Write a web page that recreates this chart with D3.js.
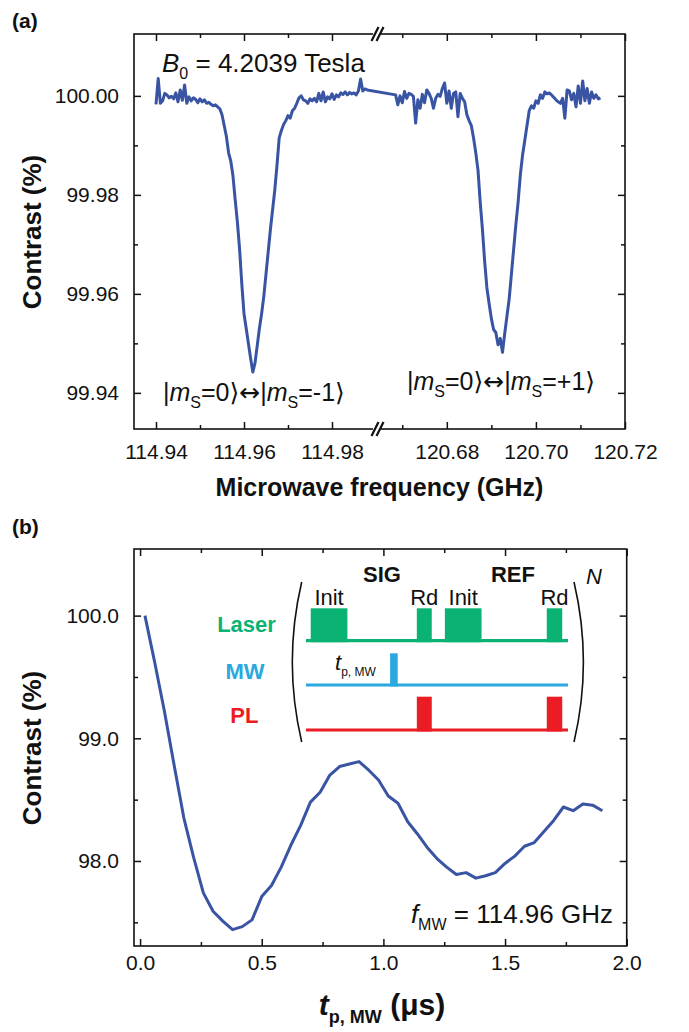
<!DOCTYPE html>
<html>
<head>
<meta charset="utf-8">
<script src="https://cdn.jsdelivr.net/npm/d3@7"></script>
<style>
  body { margin: 0; background: #fff; }
</style>
</head>
<body>
<svg id="chart" width="689" height="1032"></svg>
<script>
// ---- panel (a): ODMR spectrum, two windows with an axis break ----
var specLo = [
  [114.9400, 99.9983], [114.9405, 100.0035], [114.9410, 99.9985], [114.9415, 99.9990],
  [114.9420, 100.0005], [114.9425, 100.0002], [114.9430, 99.9996], [114.9435, 99.9999],
  [114.9440, 99.9994], [114.9445, 100.0006], [114.9450, 99.9988], [114.9455, 100.0012],
  [114.9460, 99.9991], [114.9465, 100.0022], [114.9470, 99.9985], [114.9475, 99.9998],
  [114.9480, 99.9990], [114.9485, 99.9996], [114.9490, 99.9993], [114.9495, 99.9986],
  [114.9500, 99.9994], [114.9505, 99.9988], [114.9510, 99.9992], [114.9515, 99.9985],
  [114.9520, 99.9987], [114.9525, 99.9983], [114.9530, 99.9980], [114.9535, 99.9982],
  [114.9540, 99.9978], [114.9545, 99.9974], [114.9550, 99.9962], [114.9555, 99.9940],
  [114.9560, 99.9918], [114.9565, 99.9885], [114.9570, 99.9868], [114.9575, 99.9838],
  [114.9580, 99.9790], [114.9585, 99.9745], [114.9590, 99.9690], [114.9595, 99.9620],
  [114.9600, 99.9560], [114.9605, 99.9530], [114.9610, 99.9500], [114.9615, 99.9470],
  [114.9620, 99.9442], [114.9625, 99.9460], [114.9630, 99.9495], [114.9635, 99.9530],
  [114.9640, 99.9560], [114.9645, 99.9595], [114.9650, 99.9640], [114.9655, 99.9685],
  [114.9660, 99.9730], [114.9665, 99.9770], [114.9670, 99.9810], [114.9675, 99.9860],
  [114.9680, 99.9915], [114.9685, 99.9930], [114.9690, 99.9942], [114.9695, 99.9950],
  [114.9700, 99.9960], [114.9705, 99.9955], [114.9710, 99.9970], [114.9715, 99.9975],
  [114.9720, 99.9985], [114.9725, 99.9996], [114.9730, 100.0000], [114.9735, 99.9992],
  [114.9740, 99.9990], [114.9745, 99.9985], [114.9750, 99.9994], [114.9755, 99.9990],
  [114.9760, 99.9995], [114.9765, 99.9988], [114.9770, 100.0005], [114.9775, 99.9990],
  [114.9780, 100.0008], [114.9785, 99.9988], [114.9790, 99.9998], [114.9795, 99.9994],
  [114.9800, 100.0004], [114.9805, 99.9993], [114.9810, 100.0002], [114.9815, 99.9998],
  [114.9820, 100.0006], [114.9825, 100.0003], [114.9830, 100.0008], [114.9835, 100.0002],
  [114.9840, 100.0007], [114.9845, 100.0004], [114.9850, 100.0006], [114.9855, 100.0002],
  [114.9860, 100.0010], [114.9865, 100.0034], [114.9870, 100.0010], [114.9875, 100.0014],
  [114.9880, 100.0012]
];
var specHi = [
  [120.6685, 100.0002], [120.6690, 99.9982], [120.6695, 100.0000], [120.6700, 99.9986],
  [120.6705, 100.0009], [120.6710, 99.9995], [120.6715, 100.0005], [120.6720, 100.0003],
  [120.6725, 99.9999], [120.6730, 99.9945], [120.6735, 99.9992], [120.6740, 99.9975],
  [120.6745, 100.0003], [120.6750, 99.9986], [120.6755, 100.0012], [120.6760, 100.0005],
  [120.6765, 99.9995], [120.6770, 99.9975], [120.6775, 99.9995], [120.6780, 100.0003],
  [120.6785, 99.9999], [120.6790, 100.0015], [120.6795, 100.0026], [120.6800, 99.9985],
  [120.6805, 100.0010], [120.6810, 99.9975], [120.6815, 100.0005], [120.6820, 100.0008],
  [120.6825, 99.9958], [120.6830, 100.0005], [120.6835, 99.9995], [120.6840, 99.9988],
  [120.6845, 99.9962], [120.6850, 99.9950], [120.6855, 99.9940], [120.6860, 99.9915],
  [120.6865, 99.9885], [120.6870, 99.9850], [120.6875, 99.9785], [120.6880, 99.9730],
  [120.6885, 99.9665], [120.6890, 99.9612], [120.6895, 99.9580], [120.6900, 99.9550],
  [120.6905, 99.9528], [120.6910, 99.9522], [120.6915, 99.9497], [120.6920, 99.9510],
  [120.6925, 99.9482], [120.6930, 99.9520], [120.6935, 99.9555], [120.6940, 99.9590],
  [120.6945, 99.9640], [120.6950, 99.9690], [120.6955, 99.9740], [120.6960, 99.9785],
  [120.6965, 99.9840], [120.6970, 99.9880], [120.6975, 99.9910], [120.6980, 99.9940],
  [120.6985, 99.9970], [120.6990, 99.9980], [120.6995, 99.9975], [120.7000, 99.9990],
  [120.7005, 99.9985], [120.7010, 100.0002], [120.7015, 99.9995], [120.7020, 100.0008],
  [120.7025, 100.0004], [120.7030, 100.0006], [120.7035, 100.0002], [120.7040, 99.9997],
  [120.7045, 99.9992], [120.7050, 99.9988], [120.7055, 99.9985], [120.7060, 99.9995],
  [120.7065, 99.9955], [120.7070, 100.0012], [120.7075, 100.0010], [120.7080, 99.9992],
  [120.7085, 100.0005], [120.7090, 99.9978], [120.7095, 100.0020], [120.7100, 99.9985],
  [120.7105, 100.0030], [120.7110, 99.9990], [120.7115, 100.0015], [120.7120, 99.9985],
  [120.7125, 100.0008], [120.7130, 99.9995], [120.7135, 100.0002], [120.7140, 99.9994],
  [120.7145, 99.9996]
];
var xTicksLo = [114.94, 114.96, 114.98];
var xMinorLo = [114.95, 114.97];
var xTicksHi = [120.68, 120.70, 120.72];
var xMinorHi = [120.67, 120.69, 120.71];
var yTicksA = [99.94, 99.96, 99.98, 100.00];
var yMinorA = [99.95, 99.97, 99.99];

// ---- panel (b): Rabi oscillation ----
var rabi = [
  [0.02, 100.00], [0.06, 99.62], [0.10, 99.22], [0.14, 98.78], [0.18, 98.35],
  [0.22, 98.03], [0.26, 97.74], [0.30, 97.59], [0.34, 97.51], [0.38, 97.44],
  [0.42, 97.465], [0.46, 97.52], [0.50, 97.71], [0.54, 97.80], [0.58, 97.95],
  [0.62, 98.13], [0.66, 98.29], [0.70, 98.48], [0.74, 98.56], [0.78, 98.70],
  [0.82, 98.77], [0.86, 98.79], [0.90, 98.81], [0.94, 98.74], [0.98, 98.66],
  [1.02, 98.53], [1.06, 98.47], [1.10, 98.32], [1.14, 98.22], [1.18, 98.11],
  [1.22, 98.02], [1.26, 97.95], [1.30, 97.89], [1.34, 97.905], [1.38, 97.86],
  [1.42, 97.88], [1.46, 97.905], [1.50, 97.98], [1.54, 98.04], [1.58, 98.12],
  [1.62, 98.15], [1.66, 98.24], [1.70, 98.33], [1.74, 98.44], [1.78, 98.41],
  [1.82, 98.465], [1.86, 98.455], [1.90, 98.41]
];
var xTicksB = [0, 0.5, 1.0, 1.5, 2.0];
var xMinorB = [0.25, 0.75, 1.25, 1.75];
var yTicksB = [98.0, 99.0, 100.0];
var yMinorB = [97.5, 98.5, 99.5];

// pulse sequence inset, in sequence units (0..100)
var laserPulses = [[1.8, 15.8], [42.3, 48], [53, 67], [91.9, 97.8]];
var laserNames = ["Init", "Rd", "Init", "Rd"];
var mwPulses = [[32.1, 35]];
var plPulses = [[42.3, 48], [91.9, 97.8]];
var blockNames = [["SIG", 29], ["REF", 79]];

var FONT = '"Liberation Sans", Arial, Helvetica, sans-serif';
var SYM = '"DejaVu Sans", sans-serif';
var INK = "#111";
var LINE = "#3a54a4";
var GREEN = "#0ab373", BLUE = "#2aa9e0", RED = "#ec1c24";

var svg = d3.select("#chart");

function styleAxis(g, size) {
  g.select(".domain").remove();
  g.selectAll(".tick line").attr("stroke", INK).attr("stroke-width", 1.5);
  g.selectAll(".tick text").attr("font-family", FONT).attr("font-size", size).attr("fill", INK);
}

// text made of pieces; {t, italic, bold, sub, font}
function rich(parent, x, y, parts, size, anchor) {
  var txt = parent.append("text")
    .attr("x", x).attr("y", y)
    .attr("font-family", FONT)
    .attr("font-size", size)
    .attr("fill", INK)
    .attr("text-anchor", anchor || "start");
  var shift = 0;
  parts.forEach(function(p) {
    var want = p.sub ? Math.round(size * 0.28) : 0;
    var ts = txt.append("tspan").text(p.t).attr("dy", want - shift);
    shift = want;
    if (p.sub) ts.attr("font-size", p.subSize || Math.round(size * 0.62));
    if (p.italic) ts.attr("font-style", "italic");
    if (p.bold) ts.attr("font-weight", "bold");
    if (p.font) ts.attr("font-family", p.font);
  });
  return txt;
}

function drawAxes(g, xs, ys, frame, o) {
  // bottom + top
  xs.forEach(function(s) {
    g.append("g").attr("transform", "translate(0," + frame.bottom + ")")
      .call(d3.axisBottom(s.scale).tickValues(s.major).tickSizeInner(-7).tickSizeOuter(0)
        .tickPadding(o.xPad).tickFormat(d3.format(o.fmt)))
      .call(styleAxis, 21);
    g.append("g").attr("transform", "translate(0," + frame.bottom + ")")
      .call(d3.axisBottom(s.scale).tickValues(s.minor).tickSizeInner(-4).tickSizeOuter(0).tickFormat(""))
      .call(styleAxis, 21);
    g.append("g").attr("transform", "translate(0," + frame.top + ")")
      .call(d3.axisTop(s.scale).tickValues(s.major).tickSizeInner(-7).tickSizeOuter(0).tickFormat(""))
      .call(styleAxis, 21);
    g.append("g").attr("transform", "translate(0," + frame.top + ")")
      .call(d3.axisTop(s.scale).tickValues(s.minor).tickSizeInner(-4).tickSizeOuter(0).tickFormat(""))
      .call(styleAxis, 21);
  });
  // left + right
  g.append("g").attr("transform", "translate(" + frame.left + ",0)")
    .call(d3.axisLeft(ys.scale).tickValues(ys.major).tickSizeInner(-7).tickSizeOuter(0)
      .tickPadding(15).tickFormat(d3.format(o.yfmt)))
    .call(styleAxis, 21);
  g.append("g").attr("transform", "translate(" + frame.left + ",0)")
    .call(d3.axisLeft(ys.scale).tickValues(ys.minor).tickSizeInner(-4).tickSizeOuter(0).tickFormat(""))
    .call(styleAxis, 21);
  g.append("g").attr("transform", "translate(" + frame.right + ",0)")
    .call(d3.axisRight(ys.scale).tickValues(ys.major).tickSizeInner(-7).tickSizeOuter(0).tickFormat(""))
    .call(styleAxis, 21);
  g.append("g").attr("transform", "translate(" + frame.right + ",0)")
    .call(d3.axisRight(ys.scale).tickValues(ys.minor).tickSizeInner(-4).tickSizeOuter(0).tickFormat(""))
    .call(styleAxis, 21);

  g.append("rect")
    .attr("x", frame.left).attr("y", frame.top)
    .attr("width", frame.right - frame.left).attr("height", frame.bottom - frame.top)
    .attr("fill", "none").attr("stroke", INK).attr("stroke-width", 1.6);
}

function yTitle(cx, cy) {
  svg.append("text")
    .attr("transform", "translate(" + cx + "," + cy + ") rotate(-90)")
    .attr("text-anchor", "middle")
    .attr("font-family", FONT).attr("font-weight", "bold").attr("font-size", 26)
    .attr("fill", INK)
    .text("Contrast (%)");
}

// =================== (a) ===================
var fa = { left: 134, right: 625, top: 34, bottom: 429 };
var breakX = 378;
var xLo = d3.scaleLinear().domain([114.935, 114.990]).range([fa.left, 376]);
var xHi = d3.scaleLinear().domain([120.665, 120.720]).range([380, fa.right]);
var yA = d3.scaleLinear().domain([99.9327, 100.0125]).range([fa.bottom, fa.top]);
function xA(f) { return f < 117 ? xLo(f) : xHi(f); }

var gA = svg.append("g");
drawAxes(gA,
  [{ scale: xLo, major: xTicksLo, minor: xMinorLo }, { scale: xHi, major: xTicksHi, minor: xMinorHi }],
  { scale: yA, major: yTicksA, minor: yMinorA }, fa, { xPad: 15, fmt: ".2f", yfmt: ".2f" });

gA.append("path")
  .datum(specLo.concat(specHi))
  .attr("fill", "none")
  .attr("stroke", LINE)
  .attr("stroke-width", 3)
  .attr("stroke-linejoin", "round")
  .attr("d", d3.line().x(function(d) { return xA(d[0]); }).y(function(d) { return yA(d[1]); }));

// axis break marks
[fa.top, fa.bottom].forEach(function(y) {
  gA.append("rect").attr("x", breakX - 5).attr("y", y - 3).attr("width", 8).attr("height", 6).attr("fill", "#fff");
  [-3, 2].forEach(function(dx) {
    gA.append("line")
      .attr("x1", breakX + dx - 3.5).attr("y1", y + 7)
      .attr("x2", breakX + dx + 3.5).attr("y2", y - 7)
      .attr("stroke", INK).attr("stroke-width", 2.2);
  });
});

rich(gA, 162, 72, [{ t: "B", italic: true }, { t: "0", sub: true }, { t: " = 4.2039 Tesla" }], 26);
rich(gA, 163, 401, [{ t: "|" }, { t: "m", italic: true }, { t: "S", sub: true }, { t: "=0" },
  { t: "\u27E9\u2194", font: SYM }, { t: "|" },
  { t: "m", italic: true }, { t: "S", sub: true }, { t: "=-1" }, { t: "\u27E9", font: SYM }], 25);
rich(gA, 407, 390, [{ t: "|" }, { t: "m", italic: true }, { t: "S", sub: true }, { t: "=0" },
  { t: "\u27E9\u2194", font: SYM }, { t: "|" },
  { t: "m", italic: true }, { t: "S", sub: true }, { t: "=+1" }, { t: "\u27E9", font: SYM }], 25);

svg.append("text").attr("x", 12).attr("y", 28)
  .attr("font-family", FONT).attr("font-weight", "bold").attr("font-size", 21).attr("fill", INK)
  .text("(a)");
yTitle(41, 232);
svg.append("text").attr("x", (fa.left + fa.right) / 2).attr("y", 496)
  .attr("text-anchor", "middle")
  .attr("font-family", FONT).attr("font-weight", "bold").attr("font-size", 25).attr("fill", INK)
  .text("Microwave frequency (GHz)");

// =================== (b) ===================
var fb = { left: 134, right: 626.7, top: 549, bottom: 946 };
var xB = d3.scaleLinear().domain([-0.025, 2.0]).range([fb.left, fb.right]);
var yB = d3.scaleLinear().domain([97.307, 100.543]).range([fb.bottom, fb.top]);

var gB = svg.append("g");
drawAxes(gB, [{ scale: xB, major: xTicksB, minor: xMinorB }],
  { scale: yB, major: yTicksB, minor: yMinorB }, fb, { xPad: 9, fmt: ".1f", yfmt: ".1f" });

gB.append("path")
  .datum(rabi)
  .attr("fill", "none")
  .attr("stroke", LINE)
  .attr("stroke-width", 3)
  .attr("stroke-linejoin", "round")
  .attr("d", d3.line().x(function(d) { return xB(d[0]); }).y(function(d) { return yB(d[1]); }));

rich(gB, 613, 923, [{ t: "f", italic: true }, { t: "MW", sub: true, subSize: 16 }, { t: " = 114.96 GHz" }], 26, "end");

svg.append("text").attr("x", 12).attr("y", 534)
  .attr("font-family", FONT).attr("font-weight", "bold").attr("font-size", 21).attr("fill", INK)
  .text("(b)");
yTitle(41, 748);
rich(svg, 382, 1015, [{ t: "t", italic: true, bold: true }, { t: "p, MW", sub: true, bold: true, subSize: 18 },
  { t: " (\u03BCs)", bold: true }], 30, "middle");

// ---- pulse sequence inset ----
var seq = d3.scaleLinear().domain([0, 100]).range([306, 568]);
var rows = [
  { name: "Laser", color: GREEN, base: 640.7, top: 608.3, pulses: laserPulses, lx: 246.5, ly: 631.7 },
  { name: "MW", color: BLUE, base: 685, top: 653.3, pulses: mwPulses, lx: 245, ly: 679.3 },
  { name: "PL", color: RED, base: 730, top: 696.7, pulses: plPulses, lx: 244.3, ly: 723.3 }
];
var gI = svg.append("g");
rows.forEach(function(r) {
  gI.append("line")
    .attr("x1", seq(0)).attr("x2", seq(100)).attr("y1", r.base).attr("y2", r.base)
    .attr("stroke", r.color).attr("stroke-width", 3.2);
  gI.selectAll(null).data(r.pulses).enter().append("rect")
    .attr("x", function(d) { return seq(d[0]); })
    .attr("width", function(d) { return seq(d[1]) - seq(d[0]); })
    .attr("y", r.top).attr("height", r.base - r.top + 1.5)
    .attr("fill", r.color);
  gI.append("text").attr("x", r.lx).attr("y", r.ly).attr("text-anchor", "middle")
    .attr("font-family", FONT).attr("font-weight", "bold").attr("font-size", 22)
    .attr("fill", r.color).text(r.name);
});
gI.selectAll(null).data(laserPulses).enter().append("text")
  .attr("x", function(d) { return seq((d[0] + d[1]) / 2); })
  .attr("y", 605).attr("text-anchor", "middle")
  .attr("font-family", FONT).attr("font-size", 22).attr("fill", INK)
  .text(function(d, i) { return laserNames[i]; });
gI.selectAll(null).data(blockNames).enter().append("text")
  .attr("x", function(d) { return seq(d[1]); })
  .attr("y", 582).attr("text-anchor", "middle")
  .attr("font-family", FONT).attr("font-weight", "bold").attr("font-size", 22).attr("fill", INK)
  .text(function(d) { return d[0]; });
rich(gI, 335, 670, [{ t: "t", italic: true }, { t: "p, MW", sub: true, subSize: 12 }], 22);
rich(gI, 586, 584, [{ t: "N", italic: true }], 22);

// big brackets round the sequence
gI.append("path").attr("d", "M301.7,582 Q282.9,662 301.7,742")
  .attr("fill", "none").attr("stroke", INK).attr("stroke-width", 1.6);
gI.append("path").attr("d", "M574,582 Q592.8,662 574,742")
  .attr("fill", "none").attr("stroke", INK).attr("stroke-width", 1.6);
</script>
</body>
</html>
